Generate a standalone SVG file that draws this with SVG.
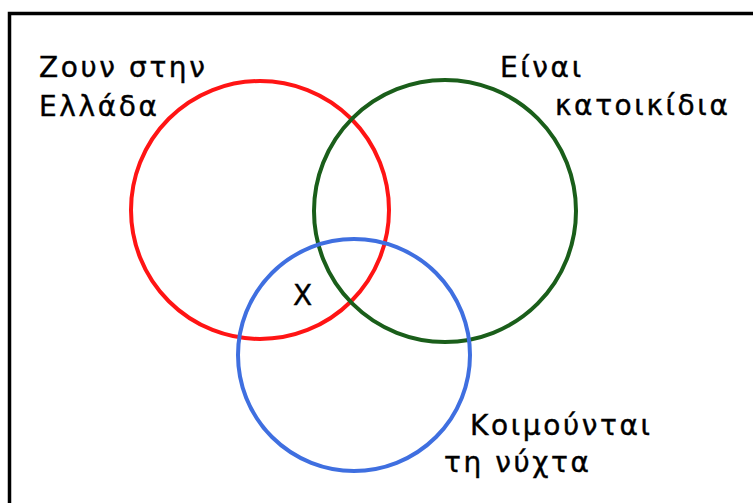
<svg xmlns="http://www.w3.org/2000/svg" width="753" height="503" viewBox="0 0 753 503">
<style>
.lbl{font-family:"DejaVu Sans","Noto Sans",sans-serif;font-size:28px;fill:#000;stroke:#000;stroke-width:0.4;letter-spacing:2.6px}
.c{fill:none;stroke-width:4}
</style>
<rect width="753" height="503" fill="#fff"/>
<rect x="9.5" y="13.5" width="760" height="510" fill="none" stroke="#000" stroke-width="3.5"/>
<g id="red"><circle class="c" cx="260" cy="210" r="129" stroke="#ff1414"/></g>
<g id="green"><circle class="c" cx="445" cy="211" r="131" stroke="#1a5e1a"/></g>
<g id="blue"><circle class="c" cx="354" cy="355" r="116" stroke="#3f6fe0"/></g>
<g id="labels">
<text class="lbl" x="39" y="77">Ζουν στην</text>
<text class="lbl" x="39" y="116">Ελλάδα</text>
<text class="lbl" x="500" y="77">Είναι</text>
<text class="lbl" x="555" y="115">κατοικίδια</text>
<text class="lbl" x="470" y="435">Κοιμούνται</text>
<text class="lbl" x="444" y="472">τη νύχτα</text>
<text class="lbl" x="293" y="305" font-size="29" stroke-width="1" letter-spacing="0">X</text>
</g>
</svg>
